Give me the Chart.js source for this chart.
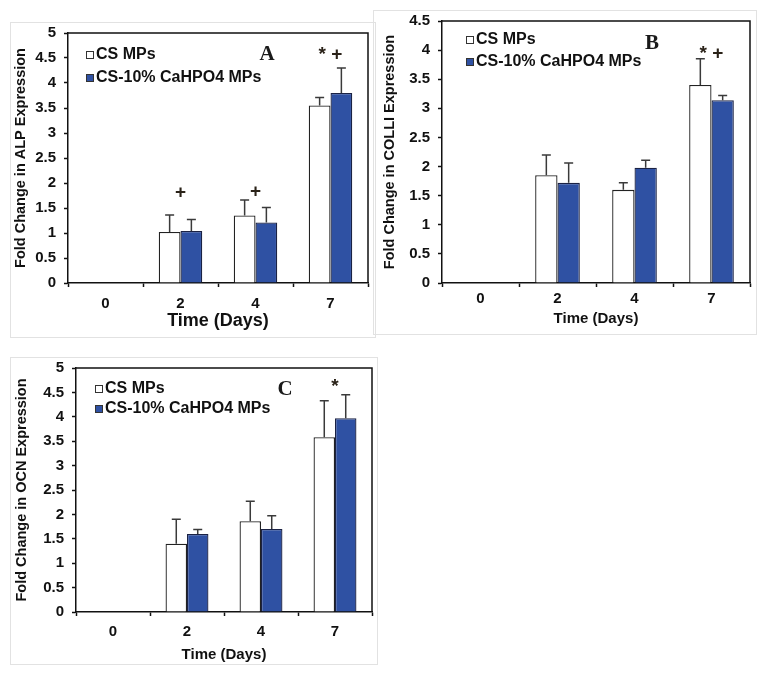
<!DOCTYPE html>
<html>
<head>
<meta charset="utf-8">
<title>Fold change in ALP, COLLI and OCN expression</title>
<script src="https://cdn.jsdelivr.net/npm/chart.js@4.4.1/dist/chart.umd.min.js"></script>
<style>
  html, body { margin: 0; padding: 0; background: #fff; }
  body { width: 762px; height: 675px; position: relative; overflow: hidden; }
  .frame { position: absolute; border: 1px solid #e2e2e2; box-sizing: border-box; }
  canvas { position: absolute; }
</style>
</head>
<body>
<div class="frame" style="left:10px;top:22px;width:366px;height:316px"></div>
<div class="frame" style="left:373px;top:10px;width:384px;height:325px"></div>
<div class="frame" style="left:10px;top:357px;width:368px;height:308px"></div>
<canvas id="alpChart" width="366" height="316" style="left:10px;top:22px"></canvas>
<canvas id="colChart" width="384" height="325" style="left:373px;top:10px"></canvas>
<canvas id="ocnChart" width="368" height="308" style="left:10px;top:357px"></canvas>
<script>
const days = ['0', '2', '4', '7'];

// A - ALP
const alpCS = [0, 1.02, 1.35, 3.55];
const alpCSErr = [0, 0.34, 0.31, 0.16];
const alpCa = [0, 1.04, 1.21, 3.8];
const alpCaErr = [0, 0.23, 0.3, 0.5];
const alpMarks = ['', '+', '+', '* +'];
const alpMarkAt = [0, 1.8, 1.82, 4.56];

// B - COLL I
const colCS = [0, 1.85, 1.6, 3.4];
const colCSErr = [0, 0.35, 0.12, 0.45];
const colCa = [0, 1.72, 1.98, 3.14];
const colCaErr = [0, 0.34, 0.13, 0.08];
const colMarks = ['', '', '', '* +'];
const colMarkAt = [0, 0, 0, 3.93];

// C - OCN
const ocnCS = [0, 1.4, 1.86, 3.58];
const ocnCSErr = [0, 0.5, 0.41, 0.75];
const ocnCa = [0, 1.6, 1.7, 3.97];
const ocnCaErr = [0, 0.09, 0.27, 0.48];
const ocnMarks = ['', '', '', '*'];
const ocnMarkAt = [0, 0, 0, 4.62];

const legendLabels = ['CS MPs', 'CS-10% CaHPO4 MPs'];
const blue = '#2f51a3';
const ink = '#111';
const sans = "'Liberation Sans', Arial, sans-serif";
const serif = "'Liberation Serif', 'Times New Roman', serif";

// upper error bars only
const errorBars = {
    id: 'errorBars',
    afterDatasetsDraw(chart) {
        const ctx = chart.ctx;
        const y = chart.scales.y;
        ctx.save();
        ctx.strokeStyle = '#3a3a3a';
        ctx.lineWidth = 1.5;
        chart.data.datasets.forEach((ds, i) => {
            chart.getDatasetMeta(i).data.forEach((bar, j) => {
                const e = ds.errors[j];
                if (!e) return;
                const top = y.getPixelForValue(ds.data[j] + e);
                ctx.beginPath();
                ctx.moveTo(bar.x, bar.y);
                ctx.lineTo(bar.x, top);
                ctx.moveTo(bar.x - 4.5, top);
                ctx.lineTo(bar.x + 4.5, top);
                ctx.stroke();
            });
        });
        ctx.restore();
    }
};

// plot box, inline legend, panel letter and significance marks
const decor = {
    id: 'decor',
    afterDraw(chart, args, o) {
        const { ctx, chartArea: a, scales } = chart;
        ctx.save();
        ctx.strokeStyle = ink;
        ctx.lineWidth = 1.5;
        ctx.beginPath();
        ctx.moveTo(a.left, a.top);
        ctx.lineTo(a.right, a.top);
        ctx.lineTo(a.right, a.bottom);
        ctx.stroke();

        // legend
        ctx.font = 'bold 16px ' + sans;
        ctx.textBaseline = 'middle';
        ctx.textAlign = 'left';
        chart.data.datasets.forEach((ds, i) => {
            const bx = a.left + o.legendX;
            const by = a.top + o.legendY + i * o.legendGap;
            ctx.fillStyle = ds.backgroundColor;
            ctx.fillRect(bx, by - 4, 8, 8);
            ctx.lineWidth = 1;
            ctx.strokeStyle = '#333';
            ctx.strokeRect(bx + 0.5, by - 3.5, 7, 7);
            ctx.fillStyle = ink;
            ctx.fillText(ds.label, bx + 10, by);
        });

        // panel letter
        ctx.font = 'bold 21px ' + serif;
        ctx.textAlign = 'center';
        ctx.fillStyle = '#1a1a1a';
        ctx.fillText(o.letter, a.left + o.letterX, a.top + o.letterY);

        // marks
        ctx.font = 'bold 19px ' + sans;
        ctx.fillStyle = '#2a2218';
        o.marks.forEach((m, i) => {
            if (!m) return;
            ctx.fillText(m, scales.x.getPixelForValue(i), scales.y.getPixelForValue(o.markAt[i]));
        });
        ctx.restore();
    }
};

function makePanel(id, p) {
    const tickFont = { family: sans, size: 15, weight: 'bold' };
    new Chart(document.getElementById(id), {
        type: 'bar',
        data: {
            labels: days,
            datasets: [
                { label: legendLabels[0], data: p.cs, errors: p.csErr, backgroundColor: '#ffffff',
                  borderColor: '#222', borderWidth: 1.3, categoryPercentage: 0.58, barPercentage: 1 },
                { label: legendLabels[1], data: p.ca, errors: p.caErr, backgroundColor: blue,
                  borderColor: '#1b2244', borderWidth: 1.3, categoryPercentage: 0.58, barPercentage: 1 }
            ]
        },
        options: {
            responsive: false,
            animation: false,
            devicePixelRatio: 1,
            layout: { padding: { left: 0, top: p.padTop, right: p.padRight, bottom: 0 } },
            plugins: {
                legend: { display: false },
                tooltip: { enabled: false },
                decor: p.decor
            },
            scales: {
                x: {
                    ticks: { color: ink, font: tickFont, padding: p.xTickPad },
                    grid: { drawOnChartArea: false, offset: true, tickLength: 4, tickColor: ink, tickWidth: 1.5 },
                    border: { color: ink, width: 1.5 },
                    title: { display: true, text: 'Time (Days)', color: ink,
                             font: { family: sans, size: p.xTitleSize, weight: 'bold' }, padding: { top: 0, bottom: p.xTitlePad } },
                    afterFit(s) { s.height = p.xHeight; s.paddingLeft = 0; s.paddingRight = 0; }
                },
                y: {
                    min: 0,
                    max: p.yMax,
                    ticks: { stepSize: 0.5, color: ink, font: tickFont, padding: 8, callback: v => String(v) },
                    grid: { drawOnChartArea: false, tickLength: 4, tickColor: ink, tickWidth: 1.5 },
                    border: { color: ink, width: 1.5 },
                    title: { display: true, text: p.yTitle, color: ink,
                             font: { family: sans, size: 14.5, weight: 'bold' }, padding: { top: p.yTitlePad, bottom: 0 } },
                    afterFit(s) { s.width = p.yWidth; s.paddingTop = 0; s.paddingBottom = 0; }
                }
            }
        },
        plugins: [errorBars, decor]
    });
}

makePanel('alpChart', {
    cs: alpCS, csErr: alpCSErr, ca: alpCa, caErr: alpCaErr,
    yMax: 5, yTitle: 'Fold Change in ALP Expression',
    padTop: 11, padRight: 8, yWidth: 58, xHeight: 55,
    xTickPad: 8, xTitleSize: 18, xTitlePad: 6, yTitlePad: 2,
    decor: { legendX: 18, legendY: 22, legendGap: 23, letter: 'A', letterX: 199, letterY: 22,
             marks: alpMarks, markAt: alpMarkAt }
});

makePanel('colChart', {
    cs: colCS, csErr: colCSErr, ca: colCa, caErr: colCaErr,
    yMax: 4.5, yTitle: 'Fold Change in COLLI Expression',
    padTop: 11, padRight: 7, yWidth: 69, xHeight: 52,
    xTickPad: 3, xTitleSize: 15, xTitlePad: 7, yTitlePad: 8,
    decor: { legendX: 24, legendY: 19, legendGap: 22, letter: 'B', letterX: 210, letterY: 23,
             marks: colMarks, markAt: colMarkAt }
});

makePanel('ocnChart', {
    cs: ocnCS, csErr: ocnCSErr, ca: ocnCa, caErr: ocnCaErr,
    yMax: 5, yTitle: 'Fold Change in OCN Expression',
    padTop: 11, padRight: 6, yWidth: 66, xHeight: 53,
    xTickPad: 7, xTitleSize: 15, xTitlePad: 1, yTitlePad: 3,
    decor: { legendX: 19, legendY: 21, legendGap: 20, letter: 'C', letterX: 209, letterY: 22,
             marks: ocnMarks, markAt: ocnMarkAt }
});
</script>
</body>
</html>
